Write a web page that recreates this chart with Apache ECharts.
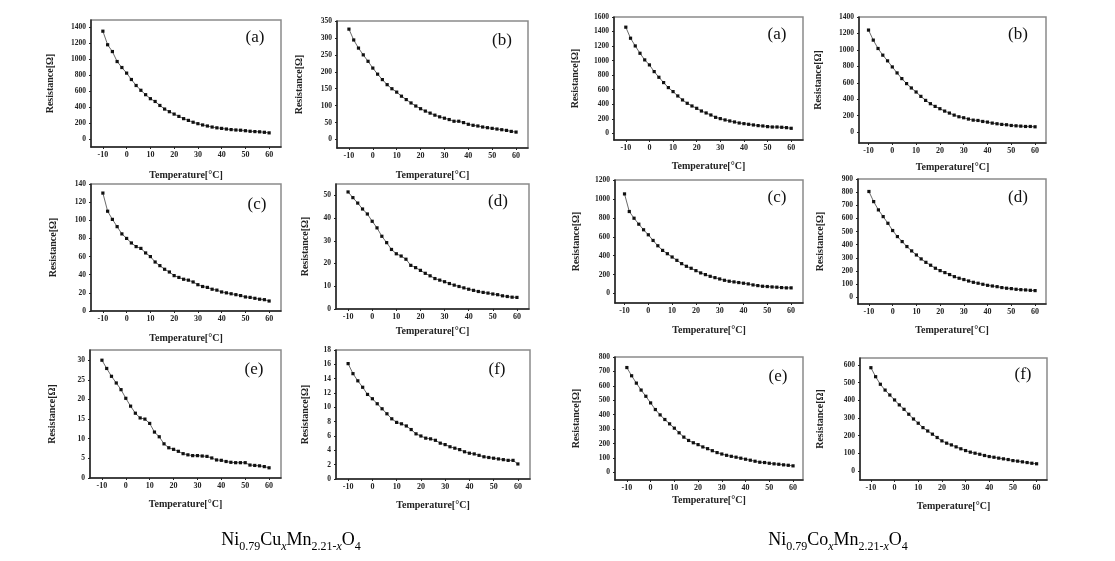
<!DOCTYPE html>
<html><head><meta charset="utf-8">
<script src="https://cdn.jsdelivr.net/npm/echarts@6/dist/echarts.min.js"></script>
<style>html,body{margin:0;padding:0;background:#fff}#c{width:1115px;height:561px}</style>
</head><body><div id="c"></div>
<script>
const temps = [-10,-8,-6,-4,-2,0,2,4,6,8,10,12,14,16,18,20,22,24,26,28,30,32,34,36,38,40,42,44,46,48,50,52,54,56,58,60];
const xTicks = [-10,0,10,20,30,40,50,60];
const panelLetters = ['(a)','(b)','(c)','(d)','(e)','(f)'];

// Ni0.79CuxMn2.21-xO4
const cuA = [1350,1180,1095,970,895,825,745,670,610,555,505,470,420,375,342,312,283,255,233,210,192,176,163,150,140,133,125,118,113,110,104,97,93,90,84,77];
const cuB = [326,294,270,250,231,211,193,177,162,150,140,128,118,108,99,91,84,78,72,67,63,59,54,54,50,45,42,40,37,35,33,31,29,27,24,22];
const cuC = [130,110,101,93,85,80,75,71,69,64,60,54,50,46,43,39,37,35,34,32,29,27,26,24,23,21,20,19,18,17,15.5,15,14,13,12.5,11];
const cuD = [51.5,49,46.6,44,41.8,38.6,35.7,32,29.2,26.2,24.3,23.3,21.9,19.2,18.2,17,15.7,14.6,13.4,12.7,12,11.2,10.5,9.9,9.3,8.7,8.2,7.7,7.3,7,6.6,6.3,5.8,5.5,5.2,5.1];
const cuE = [30,27.9,25.9,24.2,22.5,20.3,18.3,16.5,15.3,15,13.9,11.7,10.5,8.7,7.7,7.3,6.8,6.2,5.9,5.7,5.7,5.6,5.5,5.1,4.6,4.5,4.2,4,3.9,3.9,3.9,3.3,3.2,3.1,2.9,2.6];
const cuF = [16.1,14.7,13.7,12.8,11.8,11.2,10.5,9.8,9.1,8.4,7.9,7.7,7.4,6.9,6.3,6,5.7,5.6,5.4,5,4.8,4.5,4.3,4.1,3.8,3.6,3.5,3.3,3.1,3,2.9,2.8,2.7,2.6,2.6,2.1];
// Ni0.79CoxMn2.21-xO4
const coA = [1460,1308,1202,1101,1010,941,849,771,698,629,574,514,459,413,376,344,307,280,252,220,202,184,170,156,142,133,124,115,106,101,92,87,87,83,78,69];
const coB = [1241,1119,1017,936,867,793,720,651,590,537,488,435,386,346,313,285,256,232,207,187,175,159,146,142,130,122,110,102,94,90,81,77,73,69,69,65];
const coC = [1053,867,796,733,674,621,561,505,456,421,386,351,316,288,267,242,218,200,182,168,154,140,130,123,116,109,102,91,84,77,74,70,67,63,60,60];
const coD = [805,728,665,614,563,508,462,424,386,353,322,292,266,244,221,203,188,173,157,145,135,124,114,107,99,91,86,81,74,69,66,61,58,56,53,51];
const coE = [727,670,619,571,528,482,436,399,367,337,307,275,245,222,206,193,177,165,151,138,128,119,112,106,99,92,85,78,71,69,64,60,57,53,50,46];
const coF = [585,534,491,458,430,402,374,349,321,294,270,245,226,208,189,170,157,147,136,125,115,106,100,94,87,81,77,72,68,64,58,55,51,47,43,40];

const yTicks = {
  cuA:[0,200,400,600,800,1000,1200,1400], cuB:[0,50,100,150,200,250,300,350], cuC:[0,20,40,60,80,100,120,140],
  cuD:[0,10,20,30,40,50], cuE:[0,5,10,15,20,25,30], cuF:[0,2,4,6,8,10,12,14,16,18],
  coA:[0,200,400,600,800,1000,1200,1400,1600], coB:[0,200,400,600,800,1000,1200,1400], coC:[0,200,400,600,800,1000,1200],
  coD:[0,100,200,300,400,500,600,700,800,900], coE:[0,100,200,300,400,500,600,700,800], coF:[0,100,200,300,400,500,600]
};
const seriesData = {cuA,cuB,cuC,cuD,cuE,cuF,coA,coB,coC,coD,coE,coF};

// layout (px) and axis ranges
const panels = [
  {k:'cuA',l:0,g:[91,20,190,127], x:[-15,65], y:[-100,1490], yg:36, xg:23, lab:[-26,18]},
  {k:'cuB',l:1,g:[337,21,191,127], x:[-15,65], y:[-25,350], yg:33, xg:22, lab:[-26,20]},
  {k:'cuC',l:2,g:[91,184,190,127], x:[-15,65], y:[0,140], yg:33, xg:22, lab:[-24,21]},
  {k:'cuD',l:3,g:[336,184,193,125], x:[-15,65], y:[0,55], yg:26, xg:17, lab:[-31,18]},
  {k:'cuE',l:4,g:[90,350,191,128], x:[-15,65], y:[0,32.6], yg:33, xg:21, lab:[-27,20]},
  {k:'cuF',l:5,g:[336,350,194,129], x:[-15,65], y:[0,18], yg:26, xg:21, lab:[-33,20]},
  {k:'coA',l:0,g:[614,17,189,123], x:[-15,65], y:[-92,1600], yg:34, xg:21, lab:[-26,18]},
  {k:'coB',l:1,g:[859,17,187,126], x:[-14,64.6], y:[-132,1400], yg:36, xg:19, lab:[-28,18]},
  {k:'coC',l:2,g:[615,180,188,123], x:[-14,65], y:[-100,1200], yg:34, xg:22, lab:[-26,18]},
  {k:'coD',l:3,g:[858,179,188,125], x:[-14.6,64.6], y:[-51,900], yg:33, xg:21, lab:[-28,19]},
  {k:'coE',l:4,g:[615,357,188,123], x:[-15,64.2], y:[-52,800], yg:34, xg:15, lab:[-25,20]},
  {k:'coF',l:5,g:[860,358,187,122], x:[-14.6,64.4], y:[-52,640], yg:35, xg:21, lab:[-24,17]}
];

const FONT = "'Liberation Serif','Times New Roman',serif";
const plain = v => String(v);
const grid=[], xAxis=[], yAxis=[], series=[], graphic=[];
panels.forEach((p,i)=>{
  grid.push({left:p.g[0], top:p.g[1], width:p.g[2], height:p.g[3], show:true, borderColor:'#8a8a8a', borderWidth:1.5, backgroundColor:'#fff', containLabel:false});
  xAxis.push({type:'value', gridIndex:i, min:p.x[0], max:p.x[1],
    name:'Temperature[°C]', nameLocation:'middle', nameGap:p.xg,
    nameTextStyle:{fontFamily:FONT, fontWeight:'bold', fontSize:10, color:'#222'},
    axisLine:{show:true, onZero:false, lineStyle:{color:'#222', width:1.5}},
    axisTick:{show:true, length:2, customValues:xTicks, lineStyle:{color:'#222'}},
    axisLabel:{customValues:xTicks, formatter:plain, fontFamily:FONT, fontWeight:'bold', fontSize:8, color:'#222', margin:4},
    splitLine:{show:false}});
  yAxis.push({type:'value', gridIndex:i, min:p.y[0], max:p.y[1],
    name:'Resistance[Ω]', nameLocation:'middle', nameGap:p.yg, nameRotate:90,
    nameTextStyle:{fontFamily:FONT, fontWeight:'bold', fontSize:10, color:'#222'},
    axisLine:{show:true, onZero:false, lineStyle:{color:'#222', width:1.5}},
    axisTick:{show:true, length:2, customValues:yTicks[p.k], lineStyle:{color:'#222'}},
    axisLabel:{customValues:yTicks[p.k], formatter:plain, fontFamily:FONT, fontWeight:'bold', fontSize:7.5, color:'#222', margin:5},
    splitLine:{show:false}});
  series.push({type:'line', xAxisIndex:i, yAxisIndex:i,
    data: temps.map((t,j)=>[t, seriesData[p.k][j]]),
    symbol:'rect', symbolSize:3.2, showSymbol:true,
    lineStyle:{color:'#444', width:0.8}, itemStyle:{color:'#111'},
    animation:false, silent:true});
  graphic.push({type:'text', x:p.g[0]+p.g[2]+p.lab[0], y:p.g[1]+p.lab[1],
    style:{text:panelLetters[p.l], font:"17px "+FONT, fill:'#111', align:'center', verticalAlign:'middle'}});
});

const capRich = {
  n:{fontFamily:FONT, fontSize:18, color:'#111', verticalAlign:'bottom', lineHeight:22},
  s:{fontFamily:FONT, fontSize:12, color:'#111', verticalAlign:'bottom', lineHeight:22, padding:[0,0,-4,0]},
  si:{fontFamily:FONT, fontSize:12, fontStyle:'italic', color:'#111', verticalAlign:'bottom', lineHeight:22, padding:[0,0,-4,0]}
};
graphic.push({type:'text', x:291, y:538, style:{text:'{n|Ni}{s|0.79}{n|Cu}{si|x}{n|Mn}{s|2.21-}{si|x}{n|O}{s|4}', rich:capRich, align:'center', verticalAlign:'middle'}});
graphic.push({type:'text', x:838, y:538, style:{text:'{n|Ni}{s|0.79}{n|Co}{si|x}{n|Mn}{s|2.21-}{si|x}{n|O}{s|4}', rich:capRich, align:'center', verticalAlign:'middle'}});

const chart = echarts.init(document.getElementById('c'), null, {renderer:'canvas'});
chart.setOption({backgroundColor:'#fff', animation:false, grid, xAxis, yAxis, series, graphic});
</script></body></html>
